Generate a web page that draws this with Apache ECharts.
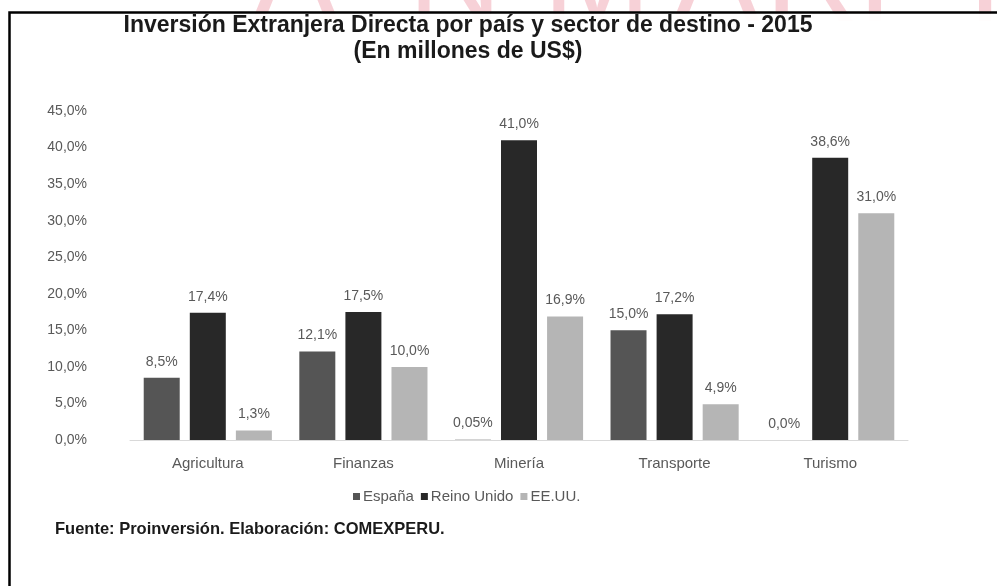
<!DOCTYPE html>
<html>
<head>
<meta charset="utf-8">
<script src="https://cdn.jsdelivr.net/npm/echarts@6/dist/echarts.min.js"></script>
<style>
  html, body { margin: 0; padding: 0; background: #fff; }
  #chart { width: 997px; height: 586px; }
</style>
</head>
<body>
<div id="chart"></div>
<script>
// datos
const sectores = ["Agricultura", "Finanzas", "Minería", "Transporte", "Turismo"];
const espana = [8.5, 12.1, 0.05, 15.0, 0.0];
const reinoUnido = [17.4, 17.5, 41.0, 17.2, 38.6];
const eeuu = [1.3, 10.0, 16.9, 4.9, 31.0];
const paises = ["España", "Reino Unido", "EE.UU."];
const colores = ["#555555", "#282828", "#b5b5b5"];
const marcaAgua = ["A", "N", "M", "A", "R", "T", "I"];

const fuente = "Liberation Sans, Arial, sans-serif";

// 8.5 -> "8,5%", 0.05 -> "0,05%"
function fmt(v) {
  const s = Math.round(v * 10) / 10 === v ? v.toFixed(1) : String(v);
  return s.replace(".", ",") + "%";
}

const chart = echarts.init(document.getElementById("chart"), null, { renderer: "canvas" });

// marca de agua rosada, sólo asoma por encima del marco
const letrasX = [295, 455, 597, 716, 812, 875, 985];
const fondo = marcaAgua.map((l, i) => ({
  type: "text",
  z: 0,
  silent: true,
  x: letrasX[i],
  y: 50,
  style: {
    text: l,
    fill: "#f4c2ca",
    font: "130px " + fuente,
    textAlign: "center",
    textVerticalAlign: "bottom",
    opacity: 0.75
  }
}));

function serie(nombre, datos, color) {
  return {
    name: nombre,
    type: "bar",
    data: datos,
    barWidth: 36,
    barGap: "28%",
    itemStyle: { color: color },
    label: {
      show: true,
      position: "top",
      distance: 9,
      color: "#595959",
      fontFamily: fuente,
      fontSize: 14,
      formatter: (p) => fmt(p.value)
    }
  };
}

const option = {
  backgroundColor: "#fff",
  animation: false,
  title: {
    text: "Inversión Extranjera Directa por país y sector de destino - 2015\n(En millones de US$)",
    left: 468,
    top: 13,
    padding: 0,
    textAlign: "center",
    z: 8,
    textStyle: {
      fontFamily: fuente,
      fontWeight: "bold",
      fontSize: 23,
      lineHeight: 26,
      color: "#1a1a1a"
    }
  },
  legend: {
    data: paises,
    left: 348,
    top: 484,
    icon: "rect",
    itemWidth: 7,
    itemHeight: 7,
    itemGap: 7,
    textStyle: { fontFamily: fuente, fontSize: 15, color: "#595959", padding: [0, 0, 0, -2] }
  },
  grid: { left: 130, right: 89, top: 111, bottom: 146 },
  xAxis: {
    type: "category",
    data: sectores,
    axisLine: { lineStyle: { color: "#d9d9d9", width: 1 } },
    axisTick: { show: false },
    axisLabel: { fontFamily: fuente, fontSize: 15, color: "#595959", margin: 16 }
  },
  yAxis: {
    type: "value",
    min: 0,
    max: 45,
    interval: 5,
    axisLine: { show: false },
    axisTick: { show: false },
    splitLine: { show: false },
    axisLabel: {
      fontFamily: fuente,
      fontSize: 14,
      color: "#595959",
      margin: 43,
      formatter: (v) => fmt(v)
    }
  },
  graphic: fondo.concat([
    {
      type: "rect",
      z: 1,
      silent: true,
      shape: { x: 10, y: 13.5, width: 987, height: 60 },
      style: { fill: "rgba(255,255,255,0.95)" }
    },
    {
      type: "polyline",
      z: 10,
      silent: true,
      shape: { points: [[9.5, 586], [9.5, 12.5], [997, 12.5]] },
      style: { stroke: "#000", lineWidth: 2.5, fill: null }
    },
    {
      type: "text",
      z: 10,
      left: 55,
      top: 521,
      style: {
        text: "Fuente: Proinversión. Elaboración: COMEXPERU.",
        font: "bold 16.5px " + fuente,
        fill: "#1a1a1a"
      }
    }
  ]),
  series: [
    serie(paises[0], espana, colores[0]),
    serie(paises[1], reinoUnido, colores[1]),
    serie(paises[2], eeuu, colores[2])
  ]
};

chart.setOption(option);
</script>
</body>
</html>
